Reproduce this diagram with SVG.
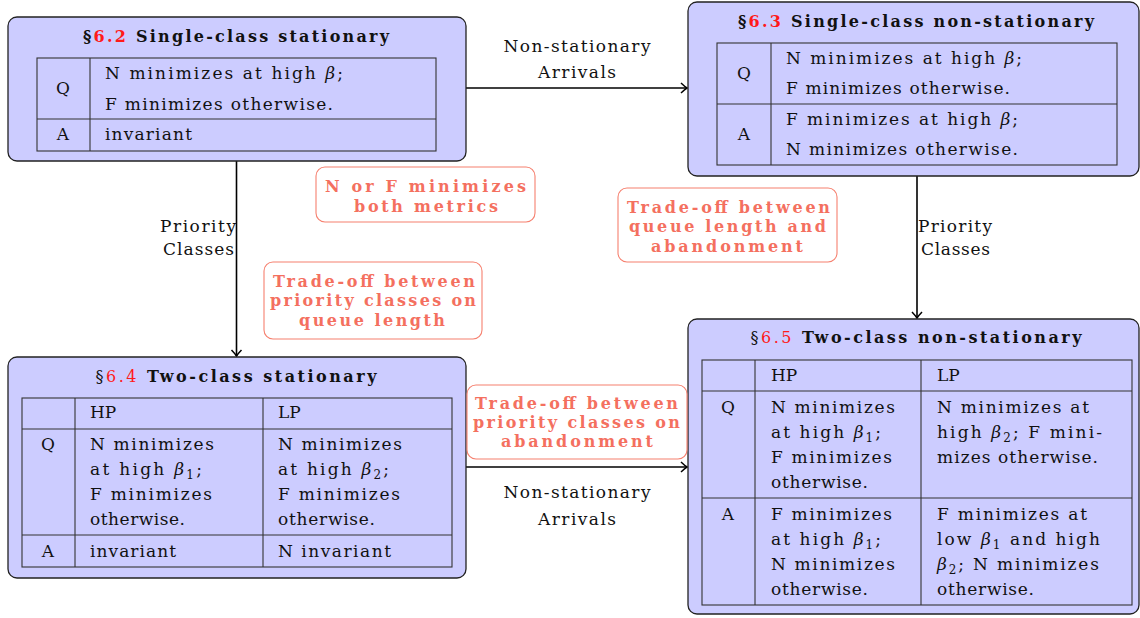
<svg xmlns="http://www.w3.org/2000/svg" width="1140" height="618" viewBox="0 0 1140 618">
<style>
text{font-family:"DejaVu Serif","Noto Serif","Liberation Serif",serif;fill:#111}
.b{font-size:17px}
.t{font-size:16px;font-weight:bold;text-anchor:middle}
.tr{font-weight:normal}
.red{fill:#ff1a1a}
.c{text-anchor:middle}
.it{font-style:italic}
.sub{font-size:12px}
.node{fill:#ccccff;stroke:#222;stroke-width:1.3}
.tbl{fill:none;stroke:#333;stroke-width:1.1}
.note rect{fill:#fff;stroke:#f6806f;stroke-width:1.1}
.note text{fill:#f4705f;font-size:16px;font-weight:bold;text-anchor:middle}
.edge{stroke:#000;stroke-width:1.6;fill:none}
.lbl{font-size:17px}
</style>
<defs>
<marker id="arr" markerUnits="userSpaceOnUse" markerWidth="14" markerHeight="14" viewBox="-8 -7 10 14" refX="0" refY="0" orient="auto">
<path d="M-6,-5 Q-2,-1.2 0,0 Q-2,1.2 -6,5" fill="none" stroke="#000" stroke-width="1.5"/>
</marker>
</defs>

<g id="connectors">
<line class="edge" x1="466" y1="88" x2="687" y2="88" marker-end="url(#arr)"/>
<text class="lbl c" x="577" y="52" textLength="147" lengthAdjust="spacing">Non-stationary</text>
<text class="lbl c" x="577" y="78" textLength="78" lengthAdjust="spacing">Arrivals</text>
<line class="edge" x1="236.5" y1="161" x2="236.5" y2="356" marker-end="url(#arr)"/>
<text class="lbl" x="236" y="232" text-anchor="end" textLength="76" lengthAdjust="spacing">Priority</text>
<text class="lbl" x="234" y="255" text-anchor="end" textLength="71" lengthAdjust="spacing">Classes</text>
<line class="edge" x1="917" y1="176" x2="917" y2="318" marker-end="url(#arr)"/>
<text class="lbl" x="918" y="232" textLength="74" lengthAdjust="spacing">Priority</text>
<text class="lbl" x="921" y="255" textLength="69" lengthAdjust="spacing">Classes</text>
<line class="edge" x1="466" y1="467" x2="687" y2="467" marker-end="url(#arr)"/>
<text class="lbl c" x="577" y="498" textLength="147" lengthAdjust="spacing">Non-stationary</text>
<text class="lbl c" x="577" y="525" textLength="78" lengthAdjust="spacing">Arrivals</text>
</g>

<g id="node62">
<rect class="node" x="8" y="17" width="458" height="144" rx="9"/>
<text class="t" x="236" y="42" textLength="306" lengthAdjust="spacing">§<tspan class="red">6.2</tspan> Single-class stationary</text>
<rect class="tbl" x="37" y="58" width="399" height="93"/>
<line class="tbl" x1="90" y1="58" x2="90" y2="151"/>
<line class="tbl" x1="37" y1="119" x2="436" y2="119"/>
<text class="b c" x="63" y="94">Q</text>
<text class="b c" x="63" y="140">A</text>
<text class="b" x="105" y="79" textLength="238" lengthAdjust="spacing">N minimizes at high <tspan class="it">β</tspan>;</text>
<text class="b" x="105" y="110" textLength="228" lengthAdjust="spacing">F minimizes otherwise.</text>
<text class="b" x="105" y="140" textLength="87" lengthAdjust="spacing">invariant</text>
</g>

<g id="node63">
<rect class="node" x="688" y="2" width="451" height="174" rx="9"/>
<text class="t" x="916" y="27" textLength="356" lengthAdjust="spacing">§<tspan class="red">6.3</tspan> Single-class non-stationary</text>
<rect class="tbl" x="717" y="43" width="400" height="122"/>
<line class="tbl" x1="771" y1="43" x2="771" y2="165"/>
<line class="tbl" x1="717" y1="104" x2="1117" y2="104"/>
<text class="b c" x="744" y="79">Q</text>
<text class="b c" x="744" y="140">A</text>
<text class="b" x="786" y="64" textLength="236" lengthAdjust="spacing">N minimizes at high <tspan class="it">β</tspan>;</text>
<text class="b" x="786" y="94" textLength="224" lengthAdjust="spacing">F minimizes otherwise.</text>
<text class="b" x="786" y="125" textLength="232" lengthAdjust="spacing">F minimizes at high <tspan class="it">β</tspan>;</text>
<text class="b" x="786" y="155" textLength="232" lengthAdjust="spacing">N minimizes otherwise.</text>
</g>

<g id="node64">
<rect class="node" x="8" y="357" width="458" height="221" rx="9"/>
<text class="t" x="236" y="382" textLength="281" lengthAdjust="spacing"><tspan class="tr">§<tspan class="red">6.4</tspan></tspan> Two-class stationary</text>
<rect class="tbl" x="22" y="398" width="430" height="169"/>
<line class="tbl" x1="75" y1="398" x2="75" y2="567"/>
<line class="tbl" x1="263" y1="398" x2="263" y2="567"/>
<line class="tbl" x1="22" y1="429" x2="452" y2="429"/>
<line class="tbl" x1="22" y1="535" x2="452" y2="535"/>
<text class="b" x="90" y="418">HP</text>
<text class="b" x="278" y="418">LP</text>
<text class="b c" x="48" y="450">Q</text>
<text class="b c" x="48" y="557">A</text>
<text class="b" x="90" y="450" textLength="124" lengthAdjust="spacing">N minimizes</text>
<text class="b" x="90" y="475" textLength="112" lengthAdjust="spacing">at high <tspan class="it">β</tspan><tspan class="sub" dy="4">1</tspan><tspan dy="-4">;</tspan></text>
<text class="b" x="90" y="500" textLength="122" lengthAdjust="spacing">F minimizes</text>
<text class="b" x="90" y="525" textLength="95" lengthAdjust="spacing">otherwise.</text>
<text class="b" x="278" y="450" textLength="124" lengthAdjust="spacing">N minimizes</text>
<text class="b" x="278" y="475" textLength="111" lengthAdjust="spacing">at high <tspan class="it">β</tspan><tspan class="sub" dy="4">2</tspan><tspan dy="-4">;</tspan></text>
<text class="b" x="278" y="500" textLength="122" lengthAdjust="spacing">F minimizes</text>
<text class="b" x="278" y="525" textLength="97" lengthAdjust="spacing">otherwise.</text>
<text class="b" x="90" y="557" textLength="86" lengthAdjust="spacing">invariant</text>
<text class="b" x="278" y="557" textLength="113" lengthAdjust="spacing">N invariant</text>
</g>

<g id="node65">
<rect class="node" x="688" y="319" width="451" height="295" rx="9"/>
<text class="t" x="916" y="343" textLength="331" lengthAdjust="spacing"><tspan class="tr">§<tspan class="red">6.5</tspan></tspan> Two-class non-stationary</text>
<rect class="tbl" x="702" y="360" width="430" height="245"/>
<line class="tbl" x1="755" y1="360" x2="755" y2="605"/>
<line class="tbl" x1="921" y1="360" x2="921" y2="605"/>
<line class="tbl" x1="702" y1="391" x2="1132" y2="391"/>
<line class="tbl" x1="702" y1="498" x2="1132" y2="498"/>
<text class="b" x="771" y="381">HP</text>
<text class="b" x="937" y="381">LP</text>
<text class="b c" x="728" y="413">Q</text>
<text class="b c" x="728" y="520">A</text>
<text class="b" x="771" y="413" textLength="124" lengthAdjust="spacing">N minimizes</text>
<text class="b" x="771" y="438" textLength="110" lengthAdjust="spacing">at high <tspan class="it">β</tspan><tspan class="sub" dy="4">1</tspan><tspan dy="-4">;</tspan></text>
<text class="b" x="771" y="463" textLength="121" lengthAdjust="spacing">F minimizes</text>
<text class="b" x="771" y="488" textLength="97" lengthAdjust="spacing">otherwise.</text>
<text class="b" x="937" y="413" textLength="152" lengthAdjust="spacing">N minimizes at</text>
<text class="b" x="937" y="438" textLength="165" lengthAdjust="spacing">high <tspan class="it">β</tspan><tspan class="sub" dy="4">2</tspan><tspan dy="-4">; F mini-</tspan></text>
<text class="b" x="937" y="463" textLength="161" lengthAdjust="spacing">mizes otherwise.</text>
<text class="b" x="771" y="520" textLength="121" lengthAdjust="spacing">F minimizes</text>
<text class="b" x="771" y="545" textLength="110" lengthAdjust="spacing">at high <tspan class="it">β</tspan><tspan class="sub" dy="4">1</tspan><tspan dy="-4">;</tspan></text>
<text class="b" x="771" y="570" textLength="124" lengthAdjust="spacing">N minimizes</text>
<text class="b" x="771" y="595" textLength="97" lengthAdjust="spacing">otherwise.</text>
<text class="b" x="937" y="520" textLength="150" lengthAdjust="spacing">F minimizes at</text>
<text class="b" x="937" y="545" textLength="163" lengthAdjust="spacing">low <tspan class="it">β</tspan><tspan class="sub" dy="4">1</tspan><tspan dy="-4"> and high</tspan></text>
<text class="b" x="937" y="570" textLength="162" lengthAdjust="spacing"><tspan class="it">β</tspan><tspan class="sub" dy="4">2</tspan><tspan dy="-4">; N minimizes</tspan></text>
<text class="b" x="937" y="595" textLength="97" lengthAdjust="spacing">otherwise.</text>
</g>

<g id="note1" class="note">
<rect x="316" y="167" width="219" height="55" rx="9"/>
<text x="425.5" y="192" textLength="201" lengthAdjust="spacing">N or F minimizes</text>
<text x="426" y="212" textLength="144" lengthAdjust="spacing">both metrics</text>
</g>
<g id="note2" class="note">
<rect x="264" y="262" width="218" height="77" rx="9"/>
<text x="374" y="287" textLength="202" lengthAdjust="spacing">Trade-off between</text>
<text x="373" y="306" textLength="206" lengthAdjust="spacing">priority classes on</text>
<text x="372" y="326" textLength="146" lengthAdjust="spacing">queue length</text>
</g>
<g id="note3" class="note">
<rect x="618" y="188" width="219" height="74" rx="9"/>
<text x="728.5" y="213" textLength="203" lengthAdjust="spacing">Trade-off between</text>
<text x="727.5" y="232" textLength="197" lengthAdjust="spacing">queue length and</text>
<text x="727" y="252" textLength="152" lengthAdjust="spacing">abandonment</text>
</g>
<g id="note4" class="note">
<rect x="467" y="385" width="220" height="74" rx="9"/>
<text x="576.5" y="409" textLength="203" lengthAdjust="spacing">Trade-off between</text>
<text x="576.5" y="428" textLength="207" lengthAdjust="spacing">priority classes on</text>
<text x="577" y="447" textLength="152" lengthAdjust="spacing">abandonment</text>
</g>
</svg>
